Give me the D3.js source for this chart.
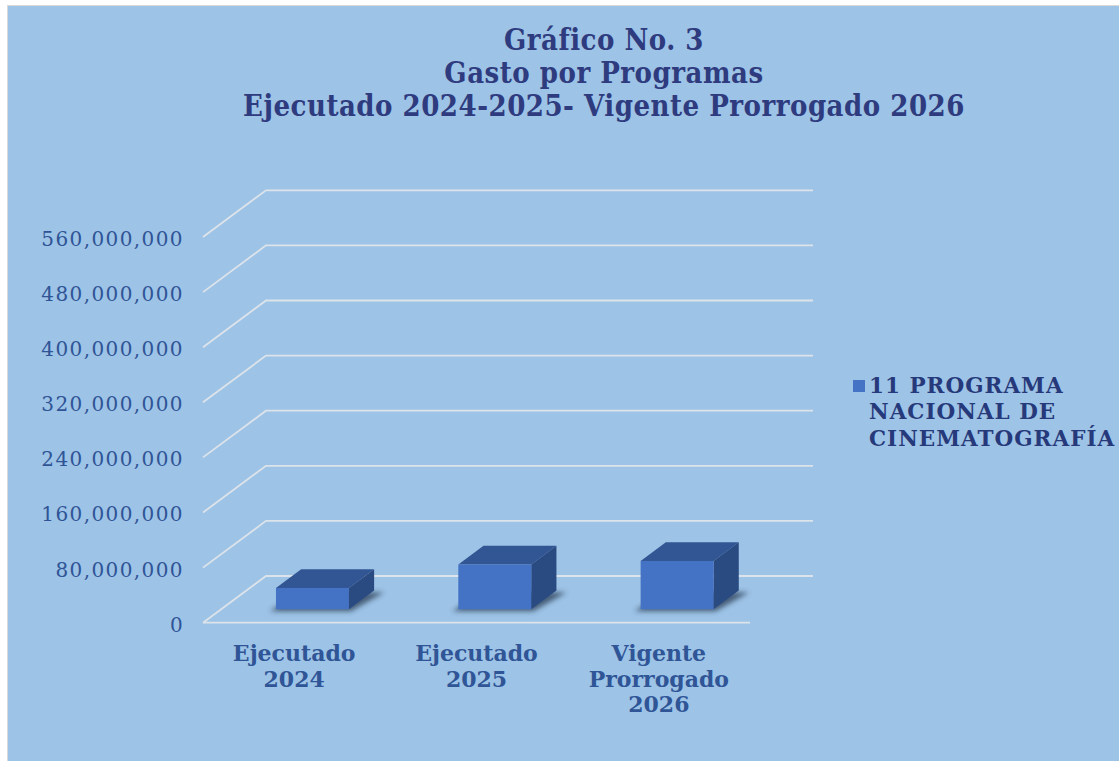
<!DOCTYPE html>
<html>
<head>
<meta charset="utf-8">
<script src="https://cdn.jsdelivr.net/npm/d3@7"></script>
<style>
  body { margin: 0; background: #ffffff; }
  svg { display: block; }
</style>
</head>
<body>
<script>
var categories = [["Ejecutado", "2024"], ["Ejecutado", "2025"], ["Vigente", "Prorrogado", "2026"]];
var values = [30800000, 64800000, 70000000];
var yTicks = [0, 80000000, 160000000, 240000000, 320000000, 400000000, 480000000, 560000000];
var titleLines = ["Gráfico No. 3", "Gasto por Programas", "Ejecutado 2024-2025- Vigente Prorrogado 2026"];
var seriesName = ["11 PROGRAMA", "NACIONAL DE", "CINEMATOGRAFÍA"];

var width = 1119, height = 761;

// depth of the 3d floor (back wall offset)
var depthX = 63, depthY = -46.7;
var f0 = 0.29, f1 = 0.69;

var svg = d3.select("body")
    .append("svg")
    .attr("width", width)
    .attr("height", height);

var defs = svg.append("defs");
defs.append("filter")
    .attr("id", "blur")
    .attr("x", "-50%").attr("y", "-50%").attr("width", "200%").attr("height", "200%")
    .append("feGaussianBlur")
    .attr("stdDeviation", 2.5);

svg.append("rect")
    .attr("x", 7.5).attr("y", 5.5)
    .attr("width", width - 7).attr("height", height - 5)
    .attr("fill", "#9dc3e6")
    .attr("stroke", "#d9d9d9")
    .attr("stroke-width", 1);

var xScale = d3.scaleBand()
        .domain(d3.range(categories.length))
        .range([203, 750])
        .paddingInner(0.6)
        .paddingOuter(0.3),
    yScale = d3.scaleLinear()
        .domain([0, 560000000])
        .range([622.7, 237]);

// gridlines
var grid = svg.append("g");
yTicks.forEach(function (t) {
    var y = yScale(t);
    grid.append("polyline")
        .attr("points", [[203, y], [203 + depthX, y + depthY], [813, y + depthY]].join(" "))
        .attr("fill", "none")
        .attr("stroke", "#dde3ea")
        .attr("stroke-width", 1.8);
});
grid.append("line")
    .attr("x1", 203).attr("x2", 750)
    .attr("y1", yScale(0)).attr("y2", yScale(0))
    .attr("stroke", "#dde3ea")
    .attr("stroke-width", 1.8);

// y axis labels
var yAxis = svg.append("g")
    .attr("transform", "translate(184,2)")
    .call(d3.axisLeft(yScale).tickValues(yTicks).tickSize(0).tickPadding(0).tickFormat(d3.format(",")));
yAxis.select(".domain").remove();
yAxis.selectAll("text")
    .attr("fill", "#2f5496")
    .style("font-family", "'DejaVu Serif', serif")
    .style("font-size", "20px")
    .style("letter-spacing", "1.4px");

// bars
var bw = xScale.bandwidth();
var ddx = (f1 - f0) * depthX, ddy = (f1 - f0) * depthY;
var bars = svg.selectAll(".bar")
    .data(values)
    .enter()
    .append("g")
    .attr("class", "bar");

bars.each(function (d, i) {
    var g = d3.select(this);
    var x0 = xScale(i) + f0 * depthX;
    var yBot = yScale(0) + f0 * depthY;
    var yTop = yScale(d) + f0 * depthY;

    g.append("polygon")
        .attr("points", [[x0 - 6, yBot + 2], [x0 + bw + 2, yBot + 2], [x0 + bw + ddx + 10, yBot + ddy + 2], [x0 + ddx, yBot + ddy]].join(" "))
        .attr("fill", "#2b3d55")
        .attr("opacity", 0.75)
        .attr("filter", "url(#blur)");

    g.append("polygon")
        .attr("points", [[x0, yTop], [x0 + bw, yTop], [x0 + bw + ddx, yTop + ddy], [x0 + ddx, yTop + ddy]].join(" "))
        .attr("fill", "#325694");

    g.append("polygon")
        .attr("points", [[x0 + bw, yTop], [x0 + bw + ddx, yTop + ddy], [x0 + bw + ddx, yBot + ddy], [x0 + bw, yBot]].join(" "))
        .attr("fill", "#2a4a82");

    g.append("rect")
        .attr("x", x0).attr("y", yTop)
        .attr("width", bw).attr("height", yBot - yTop)
        .attr("fill", "#4472c4");
});

// x labels
svg.selectAll(".xlabel")
    .data(categories)
    .enter()
    .append("text")
    .attr("class", "xlabel")
    .attr("text-anchor", "middle")
    .attr("fill", "#2f5597")
    .style("font-family", "'DejaVu Serif', serif")
    .style("font-weight", "bold")
    .style("font-size", "22px")
    .each(function (d, i) {
        var cx = xScale(i) + bw / 2;
        d3.select(this).selectAll("tspan")
            .data(d)
            .enter()
            .append("tspan")
            .attr("x", cx)
            .attr("y", function (s, j) { return 661 + j * 25.5; })
            .text(function (s) { return s; });
    });

// title
svg.append("text")
    .attr("text-anchor", "middle")
    .attr("fill", "#2e3b7e")
    .style("font-family", "'DejaVu Serif Condensed', 'DejaVu Serif', serif")
    .style("font-weight", "bold")
    .style("font-size", "29px")
    .style("letter-spacing", "0.5px")
    .selectAll("tspan")
    .data(titleLines)
    .enter()
    .append("tspan")
    .attr("x", 604)
    .attr("y", function (d, i) { return 50 + i * 33; })
    .text(function (d) { return d; });

// legend
svg.append("rect")
    .attr("x", 853).attr("y", 380)
    .attr("width", 12).attr("height", 12)
    .attr("fill", "#4472c4");

svg.append("text")
    .attr("fill", "#26397a")
    .style("font-family", "'DejaVu Serif', serif")
    .style("font-weight", "bold")
    .style("font-size", "21.5px")
    .style("letter-spacing", "1px")
    .selectAll("tspan")
    .data(seriesName)
    .enter()
    .append("tspan")
    .attr("x", 869)
    .attr("y", function (d, i) { return 393 + i * 26.3; })
    .text(function (d) { return d; });
</script>
</body>
</html>
